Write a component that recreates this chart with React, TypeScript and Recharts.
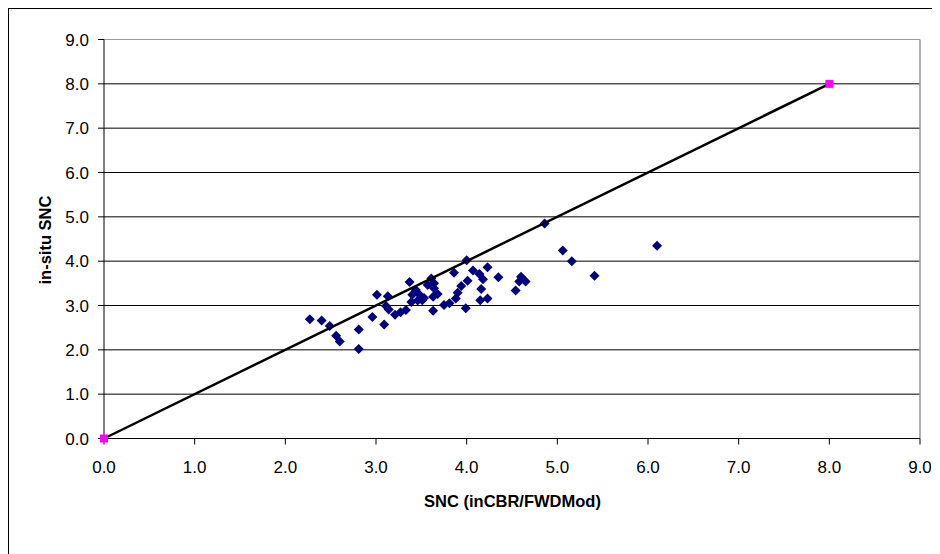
import React from "react";
import { ScatterChart, Scatter, XAxis, YAxis, CartesianGrid, ReferenceLine } from "recharts";

const xTicks = [0, 1, 2, 3, 4, 5, 6, 7, 8, 9];
const yTicks = [0, 1, 2, 3, 4, 5, 6, 7, 8, 9];

const sncModel = [
  2.27, 2.4, 2.49, 2.56, 2.6, 2.81, 2.81, 2.96, 3.01, 3.09, 3.13, 3.11, 3.14, 3.21, 3.27, 3.33,
  3.37, 3.39, 3.44, 3.48, 3.51, 3.57, 3.61, 3.64, 3.63, 3.63, 3.75, 3.81, 3.86, 3.88, 3.9, 3.94,
  4.0, 3.99, 4.01, 4.07, 4.14, 4.18, 4.16, 4.15, 4.23, 4.23, 4.35, 4.54, 4.58, 4.6, 4.65, 4.86,
  5.06, 5.16, 5.41, 6.1, 3.64, 3.53, 3.46, 3.4, 3.68,
];
const sncInSitu = [
  2.69, 2.66, 2.54, 2.32, 2.19, 2.46, 2.02, 2.74, 3.24, 2.57, 3.21, 2.99, 2.91, 2.79, 2.85, 2.9,
  3.53, 3.08, 3.35, 3.24, 3.12, 3.46, 3.61, 3.39, 3.2, 2.88, 3.01, 3.05, 3.74, 3.16, 3.29, 3.44,
  4.02, 2.94, 3.56, 3.79, 3.71, 3.59, 3.37, 3.12, 3.16, 3.86, 3.64, 3.34, 3.54, 3.65, 3.54, 4.85,
  4.24, 4.0, 3.67, 4.35, 3.5, 3.17, 3.11, 3.24, 3.26,
];
const lineX = [0, 8];
const lineY = [0, 8];

const points = sncModel.map((x, i) => ({ x, y: sncInSitu[i] }));
const linePts = lineX.map((x, i) => ({ x, y: lineY[i] }));

const fmt = (v: number) => v.toFixed(1);
const tickStyle = { fill: "#000", fontSize: 17, fontFamily: "'Liberation Sans', Arial, sans-serif" };

const Diamond = (props: any) => {
  const { cx, cy } = props;
  const r = 5;
  return <path d={`M${cx},${cy - r}L${cx + r},${cy}L${cx},${cy + r}L${cx - r},${cy}Z`} fill="#000080" />;
};
const Square = (props: any) => {
  const { cx, cy } = props;
  return <rect x={cx - 4} y={cy - 4} width={8} height={8} fill="#FF00FF" />;
};

export default function App() {
  return (
    <div
      style={{
        position: "relative",
        width: 930,
        height: 546,
        boxSizing: "border-box",
        border: "1px solid #000",
        borderBottom: "none",
        background: "#fff",
        fontFamily: "'Liberation Sans', Arial, sans-serif",
      }}
    >
      <ScatterChart width={922} height={546} margin={{ top: 30.5, right: 11, bottom: 56.5, left: 35 }}>
        <CartesianGrid horizontal={true} vertical={false} stroke="#000" strokeWidth={1} />
        <XAxis
          type="number"
          dataKey="x"
          domain={[0, 9]}
          ticks={xTicks}
          tickFormatter={fmt}
          interval={0}
          height={60}
          stroke="#000"
          tick={tickStyle}
          tickSize={6}
          tickMargin={16}
        />
        <YAxis
          type="number"
          dataKey="y"
          domain={[0, 9]}
          ticks={yTicks}
          tickFormatter={fmt}
          interval={0}
          width={60}
          stroke="#000"
          tick={tickStyle}
          tickSize={6}
          tickMargin={9}
        />
        <ReferenceLine x={9} stroke="#999" strokeWidth={1.5} />
        <ReferenceLine y={9} stroke="#999" strokeWidth={1} />
        <Scatter data={points} shape={Diamond} isAnimationActive={false} />
        <Scatter
          data={linePts}
          shape={Square}
          line={{ stroke: "#000", strokeWidth: 2.5 }}
          lineType="joint"
          isAnimationActive={false}
        />
      </ScatterChart>
      <div
        style={{
          position: "absolute",
          left: 0,
          top: 482,
          width: 1007,
          textAlign: "center",
          fontWeight: "bold",
          fontSize: 16.5,
          color: "#000",
          lineHeight: "20px",
        }}
      >
        SNC (inCBR/FWDMod)
      </div>
      <div
        style={{
          position: "absolute",
          left: 36 - 100,
          top: 231 - 10,
          width: 200,
          textAlign: "center",
          fontWeight: "bold",
          fontSize: 16.5,
          color: "#000",
          lineHeight: "20px",
          transform: "rotate(-90deg)",
        }}
      >
        in-situ SNC
      </div>
    </div>
  );
}
